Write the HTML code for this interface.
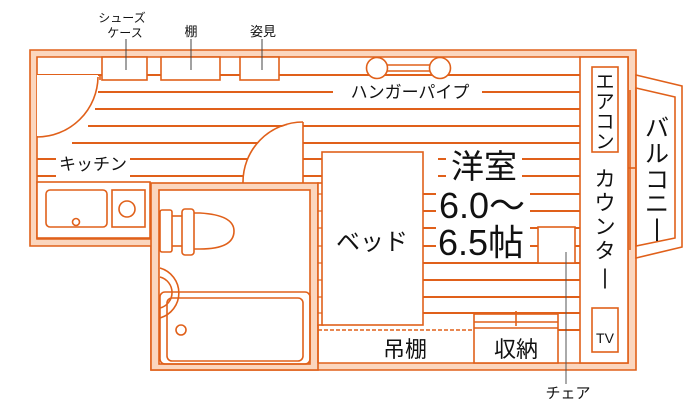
<!DOCTYPE html>
<html><head><meta charset="utf-8"><style>
html,body{margin:0;padding:0;background:#fff;width:700px;height:416px;overflow:hidden}
svg{display:block}
text{font-family:"Liberation Sans","Noto Sans CJK JP",sans-serif;fill:#111}
</style></head><body>
<svg width="700" height="416" viewBox="0 0 700 416" xmlns="http://www.w3.org/2000/svg">
<g stroke="#e0601a" stroke-width="1.6" fill="none">
<polygon points="30,50 636,50 636,370 151,370 151,246 30,246" fill="#fbd6be"/>
<polygon points="37,57 628,57 628,363 158,363 158,239 37,239" fill="#fff"/>
<polygon points="636,75 682,86 682,247 636,258" fill="#fff"/>
<polygon points="636,88 675,97 675,238 636,246" fill="none"/>
<line x1="630" y1="90" x2="630" y2="250"/>
<line x1="624" y1="168" x2="636" y2="168"/>
<g stroke-width="2">
<line x1="37" y1="75" x2="102" y2="75"/><line x1="147" y1="75" x2="161" y2="75"/><line x1="220" y1="75" x2="240" y2="75"/><line x1="279" y1="75" x2="580" y2="75"/>
<line x1="98" y1="92" x2="333" y2="92"/><line x1="482" y1="92" x2="580" y2="92"/>
<line x1="95" y1="109" x2="580" y2="109"/>
<line x1="88" y1="126" x2="580" y2="126"/>
<line x1="72" y1="143" x2="580" y2="143"/>
<line x1="37" y1="159" x2="56" y2="159"/><line x1="130" y1="159" x2="580" y2="159"/>
<line x1="37" y1="176" x2="56" y2="176"/><line x1="130" y1="176" x2="580" y2="176"/>
<line x1="423" y1="194" x2="436" y2="194"/><line x1="530" y1="194" x2="580" y2="194"/>
<line x1="423" y1="211" x2="436" y2="211"/><line x1="530" y1="211" x2="580" y2="211"/>
<line x1="423" y1="228" x2="436" y2="228"/><line x1="530" y1="228" x2="580" y2="228"/>
<line x1="423" y1="246" x2="436" y2="246"/><line x1="530" y1="246" x2="580" y2="246"/>
<line x1="423" y1="263" x2="580" y2="263"/>
<line x1="423" y1="280" x2="580" y2="280"/>
<line x1="423" y1="297" x2="580" y2="297"/>
<line x1="423" y1="313" x2="580" y2="313"/>
<line x1="558" y1="330" x2="580" y2="330"/>
</g>
<line x1="423" y1="159" x2="438" y2="159" stroke="#fff" stroke-width="3"/>
<line x1="423" y1="176" x2="438" y2="176" stroke="#fff" stroke-width="3"/>
<line x1="446" y1="159" x2="522" y2="159" stroke="#fff" stroke-width="3"/>
<line x1="446" y1="176" x2="522" y2="176" stroke="#fff" stroke-width="3"/>
<rect x="102" y="57" width="45" height="23" fill="#fff"/>
<rect x="161" y="57" width="59" height="23" fill="#fff"/>
<rect x="240" y="57" width="39" height="23" fill="#fff"/>
<line x1="387" y1="65" x2="430" y2="65"/><line x1="387" y1="71" x2="430" y2="71"/>
<circle cx="377" cy="68" r="10.5" fill="#fff"/><circle cx="440" cy="68" r="10.5" fill="#fff"/>
<path d="M37,75 L98,75 A61,61 0 0 1 37,136 Z" fill="#fff" stroke="none"/>
<path d="M98,77 A61,61 0 0 1 37,137"/>
<line x1="100" y1="75" x2="100" y2="80"/>
<path d="M303,183 L243,183 A60,60 0 0 1 303,123 Z" fill="#fff" stroke="none"/>
<path d="M243,183 A60,60 0 0 1 303,122"/>
<line x1="303" y1="122" x2="303" y2="183"/>
<rect x="37" y="182" width="113" height="56" fill="#fff"/>
<rect x="46" y="190" width="61" height="37" rx="4"/>
<circle cx="76" cy="222" r="3.5"/>
<rect x="112" y="190" width="33" height="37"/>
<circle cx="127" cy="209" r="8"/>
<rect x="151" y="183" width="167" height="187" fill="#fbd6be"/>
<rect x="159" y="190" width="151" height="174" fill="#fff"/>
<rect x="160" y="210" width="12" height="42" rx="2"/>
<rect x="182" y="209" width="12" height="46" rx="3"/>
<path d="M194,213 L200,213 Q234,215 234,231 Q234,249 200,249 L194,249"/>
<line x1="172" y1="216" x2="182" y2="216"/><line x1="172" y1="246" x2="182" y2="246"/>
<path d="M160,268 A26,26 0 0 1 160,318"/>
<path d="M160,277 A16,16 0 0 1 160,308"/>
<rect x="160" y="292" width="150" height="72" rx="5"/>
<rect x="167" y="298" width="136" height="63" rx="5"/>
<circle cx="181" cy="330" r="5"/>
<rect x="318" y="183" width="5" height="142" fill="#fff"/>
<g stroke-width="1.2">
<line x1="318" y1="194" x2="323" y2="194"/><line x1="318" y1="211" x2="323" y2="211"/><line x1="318" y1="228" x2="323" y2="228"/><line x1="318" y1="246" x2="323" y2="246"/><line x1="318" y1="263" x2="323" y2="263"/><line x1="318" y1="280" x2="323" y2="280"/><line x1="318" y1="297" x2="323" y2="297"/><line x1="318" y1="313" x2="323" y2="313"/>
</g>
<rect x="322" y="152" width="101" height="173" fill="#fff"/>
<line x1="318" y1="330" x2="474" y2="330" stroke-dasharray="4,2"/>
<line x1="318" y1="325" x2="318" y2="363"/>
<rect x="474" y="314" width="84" height="49" fill="#fff"/>
<line x1="474" y1="322" x2="558" y2="322"/><line x1="474" y1="328" x2="558" y2="328"/>
<line x1="516" y1="311" x2="516" y2="326"/>
<rect x="538" y="227" width="37" height="36" fill="#fff"/>
<line x1="566" y1="252" x2="566" y2="384" stroke="#555" stroke-width="1"/>
<rect x="580" y="57" width="48" height="306" fill="#fff"/>
<rect x="592" y="67" width="26" height="85" fill="#fff"/>
<rect x="592" y="308" width="26" height="44" fill="#fff"/>
</g>
<g stroke="#444" stroke-width="1">
<line x1="126" y1="39" x2="126" y2="70"/><line x1="191" y1="39" x2="191" y2="70"/><line x1="262" y1="39" x2="262" y2="70"/>
</g>
<text x="122" y="22" font-size="12" text-anchor="middle">シューズ</text>
<text x="125" y="37" font-size="12" text-anchor="middle">ケース</text>
<text x="191" y="36" font-size="13" text-anchor="middle">棚</text>
<text x="263" y="36" font-size="13" text-anchor="middle">姿見</text>
<text x="410" y="98" font-size="17" text-anchor="middle">ハンガーパイプ</text>
<text x="93" y="170" font-size="17" text-anchor="middle">キッチン</text>
<text x="372" y="250" font-size="24" text-anchor="middle">ベッド</text>
<text x="484" y="178" font-size="33" text-anchor="middle">洋室</text>
<text x="482" y="218" font-size="36" text-anchor="middle">6.0～</text>
<text x="481" y="255" font-size="36" text-anchor="middle">6.5帖</text>
<text x="405" y="357" font-size="22" text-anchor="middle">吊棚</text>
<text x="516" y="357" font-size="22" text-anchor="middle">収納</text>
<text x="568" y="398" font-size="15" text-anchor="middle">チェア</text>
<text x="605" y="343" font-size="14" text-anchor="middle">TV</text>
<g font-size="19" text-anchor="middle">
<text x="605" y="88">エ</text><text x="605" y="108">ア</text><text x="605" y="128">コ</text><text x="605" y="148">ン</text>
</g>
<g font-size="21" text-anchor="middle">
<text x="605" y="186">カ</text><text x="605" y="210">ウ</text><text x="605" y="234">ン</text><text x="605" y="258">タ</text><text x="605" y="284">|</text>
<text x="657" y="136" font-size="24">バ</text><text x="657" y="162" font-size="24">ル</text><text x="657" y="188" font-size="24">コ</text><text x="657" y="212" font-size="24">ニ</text><text x="657" y="236" font-size="24">|</text>
</g>
</svg>
</body></html>
